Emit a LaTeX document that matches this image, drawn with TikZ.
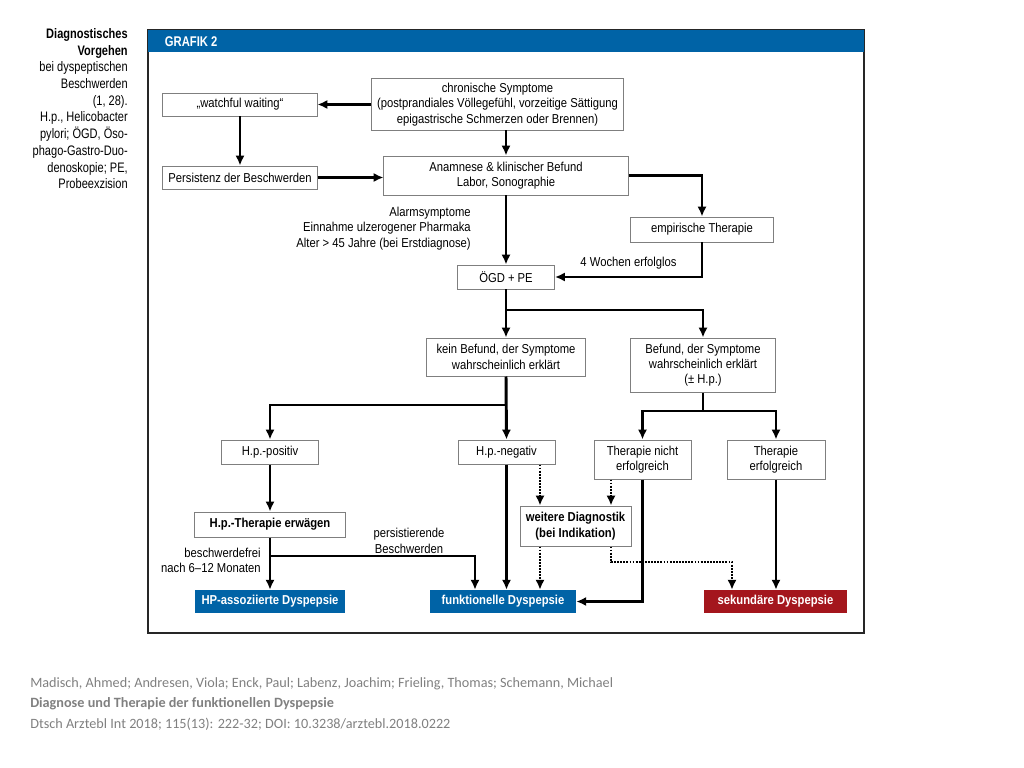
\documentclass[tikz,border=0pt]{standalone}
\usepackage{fontspec}
\usepackage{tikz}
\usetikzlibrary{arrows.meta}
\setmainfont{Liberation Sans}
\newfontfamily\diafont{Liberation Sans}[FakeStretch=0.87]
\newfontfamily\capfont{Liberation Sans}[FakeStretch=0.8]
\newfontfamily\citefont{Carlito}
\definecolor{hdrblue}{HTML}{0063A6}
\definecolor{dysred}{HTML}{A4161D}
\definecolor{boxgray}{HTML}{7F7F7F}
\definecolor{citegray}{HTML}{808080}

\begin{document}
\begin{tikzpicture}[x=0.025cm,y=-0.025cm,
    font=\diafont\fontsize{9.2}{10.9}\selectfont,
    box/.style={draw=boxgray,line width=0.7pt,fill=white,align=center,inner sep=1pt},
    dys/.style={align=center,text=white,font=\diafont\bfseries\fontsize{9.2}{10.9}\selectfont,
      minimum height=0.575cm,inner sep=1pt},
    arr/.style={->,line width=2.1pt},
    dotarr/.style={->,line width=1.8pt,dash pattern=on 1.3pt off 0.9pt},
    >={Latex[length=7pt,width=6.5pt]}]
  \useasboundingbox (0,0) rectangle (1024,768);

  % frame and header
  \draw[line width=1.4pt,black!85] (148,30) rectangle (864,633);
  \fill[hdrblue] (148,30) rectangle (864,52);
  \node[anchor=west,text=white,font=\capfont\bfseries\fontsize{10}{12}\selectfont] (hdr) at (160,41.5) {GRAFIK 2};

  % caption
  \node[anchor=north east,align=right,inner sep=0,font=\capfont\fontsize{9.8}{11.9}\selectfont] (capt) at (128,28)
    {\textbf{Diagnostisches}\\\textbf{Vorgehen}\\bei dyspeptischen\\Beschwerden\\(1, 28).\\H.p., Helicobacter\\pylori; ÖGD, Öso-\\phago-Gastro-Duo-\\denoskopie; PE,\\Probeexzision};

  % boxes
  \node[box,minimum width=3.85cm,minimum height=0.575cm] (watch) at (240,104.5) {„watchful waiting“};
  \node[box,minimum width=6.275cm,minimum height=1.275cm] (chron) at (497.5,104.5)
    {chronische Symptome\\(postprandiales Völlegefühl, vorzeitige Sättigung\\epigastrische Schmerzen oder Brennen)};
  \node[box,minimum width=3.85cm,minimum height=0.575cm] (pers) at (240,177.5) {Persistenz der Beschwerden};
  \node[box,minimum width=6.1cm,minimum height=0.975cm] (anam) at (506,175.5)
    {Anamnese \& klinischer Befund\\Labor, Sonographie};
  \node[box,minimum width=3.55cm,minimum height=0.625cm] (emp) at (702,229.5) {empirische Therapie};
  \node[box,minimum width=2.425cm,minimum height=0.6cm] (ogd) at (506,277) {ÖGD + PE};
  \node[box,minimum width=3.95cm,minimum height=0.95cm] (kein) at (506,357)
    {kein Befund, der Symptome\\wahrscheinlich erklärt};
  \node[box,minimum width=3.6cm,minimum height=1.35cm] (befund) at (703,365)
    {Befund, der Symptome\\wahrscheinlich erklärt\\(± H.p.)};
  \node[box,minimum width=2.4cm,minimum height=0.6cm] (hppos) at (270,452) {H.p.-positiv};
  \node[box,minimum width=2.425cm,minimum height=0.6cm] (hpneg) at (506.5,452) {H.p.-negativ};
  \node[box,minimum width=2.425cm,minimum height=0.975cm] (tnicht) at (642.5,459.5) {Therapie nicht\\erfolgreich};
  \node[box,minimum width=2.45cm,minimum height=0.975cm] (terf) at (776,459.5) {Therapie\\erfolgreich};
  \node[box,minimum width=3.75cm,minimum height=0.625cm,font=\diafont\bfseries\fontsize{9.2}{10.9}\selectfont] (hpther) at (270,524.5) {H.p.-Therapie erwägen};
  \node[box,minimum width=2.775cm,minimum height=1cm,font=\diafont\bfseries\fontsize{9.2}{10.9}\selectfont] (weitere) at (575.5,526)
    {weitere Diagnostik\\(bei Indikation)};
  \node[dys,fill=hdrblue,minimum width=3.75cm] (hpdys) at (270,601.5) {HP-assoziierte Dyspepsie};
  \node[dys,fill=hdrblue,minimum width=3.65cm] (fdys) at (503,601.5) {funktionelle Dyspepsie};
  \node[dys,fill=dysred,minimum width=3.575cm] (sdys) at (775.5,601.5) {sekundäre Dyspepsie};

  % free labels
  \node[anchor=north east,align=right,inner sep=0] (alarm) at (471,207)
    {Alarmsymptome\\Einnahme ulzerogener Pharmaka\\Alter > 45 Jahre (bei Erstdiagnose)};
  \node[align=center,inner sep=0] (perslab) at (409,541) {persistierende\\Beschwerden};
  \node[anchor=east,align=right,inner sep=0] (freilab) at (261,560.5) {beschwerdefrei\\nach 6–12 Monaten};

  % branch points
  \coordinate (s1) at (506,310);
  \coordinate (s2) at (506,405);
  \coordinate (s3) at (703,411);
  \coordinate (pb) at (475,556);
  \coordinate (dl) at (540,500);
  \coordinate (dr) at (611,500);
  \coordinate (dd) at (732,562);

  % connectors
  \draw[arr] (chron.west) -- (watch.east);
  \draw[arr] (watch.south) -- (pers.north);
  \draw[arr] (pers.east) -- (pers.east -| anam.west);
  \draw[arr] (anam.north |- chron.south) -- (anam.north);
  \draw[arr] (anam.south) -- (ogd.north);
  \draw[arr] (anam.east) -| (emp.north);
  \draw[arr] (emp.south) |- (ogd.east) node[pos=0.75,above=1.5pt] (wochen) {4 Wochen erfolglos};
  \draw[arr] (ogd.south) -- (kein.north);
  \draw[arr] (ogd.south |- s1) -| (befund.north);
  \draw[arr] (kein.south) -- (hpneg.north);
  \draw[arr] (kein.south |- s2) -| (hppos.north);
  \draw[arr] (befund.south) -- (s3) -| (tnicht.north);
  \draw[arr] (s3) -| (terf.north);
  \draw[arr] (hppos.south) -- (hpther.north);
  \draw[arr] (hpther.south) -- (hpdys.north);
  \draw[arr] (hpther.south |- pb) -| (fdys.north -| pb);
  \draw[arr] (hpneg.south) -- (hpneg.south |- fdys.north);
  \draw[arr] (tnicht.south) |- (fdys.east);
  \draw[arr] (terf.south) -- (terf.south |- sdys.north);
  \draw[dotarr] (hpneg.south -| dl) -- (weitere.north -| dl);
  \draw[dotarr] (tnicht.south -| dr) -- (weitere.north -| dr);
  \draw[dotarr] (weitere.south -| dl) -- (fdys.north -| dl);
  \draw[dotarr] (weitere.south -| dr) |- (dd) -- (sdys.north -| dd);

  % source
  \node[anchor=north west,align=left,inner sep=0,text=citegray,font=\citefont\fontsize{10.1}{14.6}\selectfont] (cite) at (30,677)
    {Madisch, Ahmed; Andresen, Viola; Enck, Paul; Labenz, Joachim; Frieling, Thomas; Schemann, Michael\\
     \textbf{Diagnose und Therapie der funktionellen Dyspepsie}\\
     Dtsch Arztebl Int 2018; 115(13): 222-32; DOI: 10.3238/arztebl.2018.0222};
\end{tikzpicture}
\end{document}
